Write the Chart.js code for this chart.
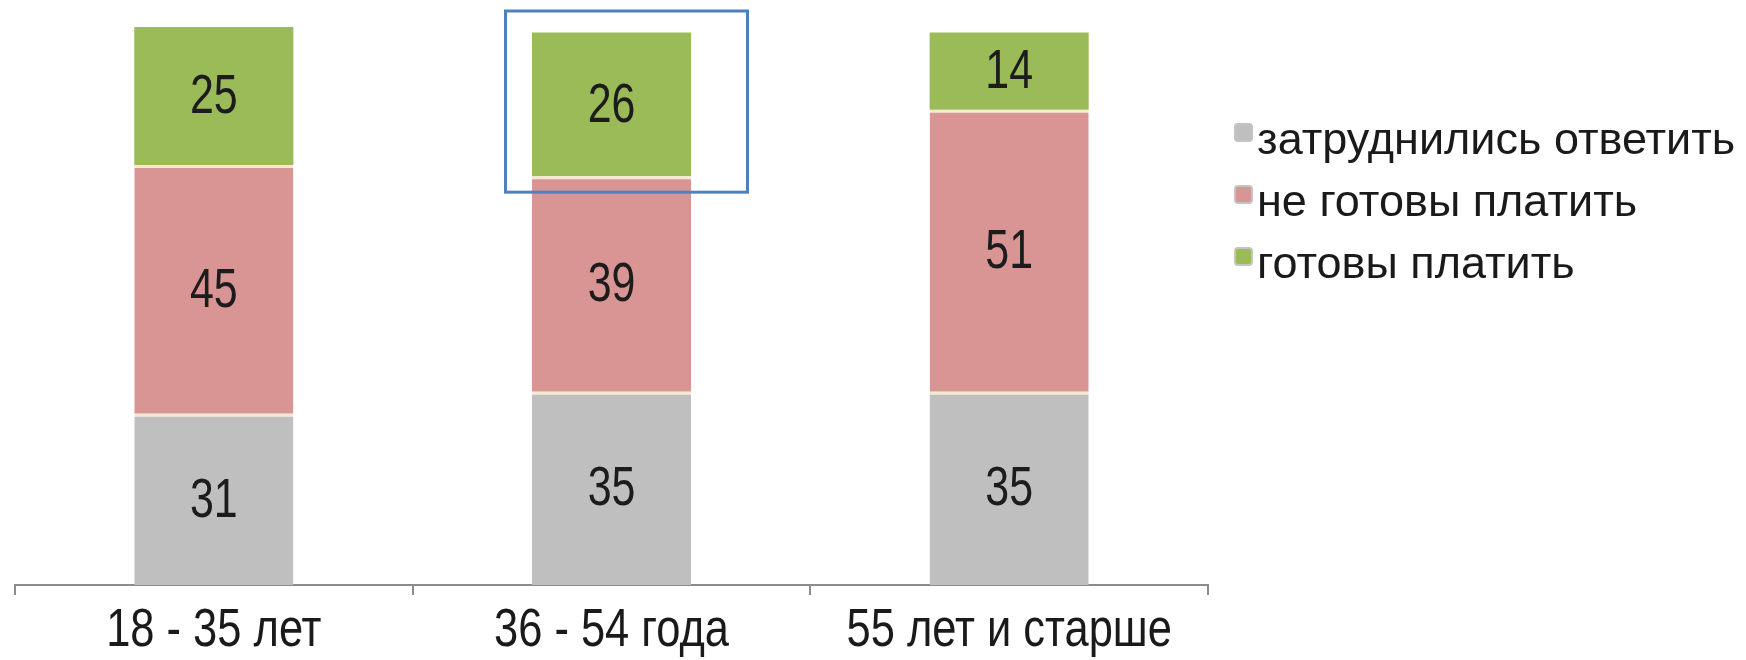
<!DOCTYPE html>
<html lang="ru">
<head>
<meta charset="utf-8">
<title>Готовность платить по возрастам</title>
<script src="https://cdn.jsdelivr.net/npm/chart.js@4.4.1/dist/chart.umd.min.js"></script>
<style>
    html, body { margin: 0; padding: 0; background: #fff; }
    #wrap { position: relative; width: 1746px; height: 660px; }
</style>
</head>
<body>
<div id="wrap"><canvas id="myChart"></canvas></div>
<script>
const categories = ["18 - 35 лет", "36 - 54 года", "55 лет и старше"];
const seriesNames = ["затруднились ответить", "не готовы платить", "готовы платить"];
const hardToSay = [31, 35, 35];
const notReady = [45, 39, 51];
const ready = [25, 26, 14];
const seriesColors = ["#bfbfbf", "#d99594", "#9bbb59"];

const baseFont = "'Liberation Sans', Arial, sans-serif";

const seriesData = [hardToSay, notReady, ready];
const totals = categories.map((c, i) => seriesData.reduce((s, arr) => s + arr[i], 0));
const yMax = Math.max(...totals);

// Arial squeezed sideways, to get the narrow look of the labels
function narrowText(ctx, text, x, y, squeeze) {
    ctx.save();
    ctx.translate(x, y);
    ctx.scale(squeeze, 1);
    ctx.fillText(text, 0, 0);
    ctx.restore();
}

// numbers in the middle of each segment
const valueLabels = {
    id: 'valueLabels',
    afterDatasetsDraw(chart) {
        const ctx = chart.ctx;
        ctx.save();
        ctx.font = "55px " + baseFont;
        ctx.textAlign = "center";
        ctx.textBaseline = "middle";
        ctx.fillStyle = "#1c1c1c";
        chart.data.datasets.forEach((ds, i) => {
            chart.getDatasetMeta(i).data.forEach((bar, j) => {
                const p = bar.getProps(["x", "y", "base"], true);
                narrowText(ctx, ds.data[j], p.x, (p.y + p.base) / 2 + 2, 0.78);
            });
        });
        ctx.restore();
    }
};

// category names, legend on the right, blue frame around the middle group's top segment
const extras = {
    id: 'extras',
    afterDraw(chart) {
        const ctx = chart.ctx;
        const xs = chart.scales.x;
        const ys = chart.scales.y;
        ctx.save();

        ctx.font = "53px " + baseFont;
        ctx.textAlign = "center";
        ctx.textBaseline = "middle";
        ctx.fillStyle = "#1a1a1a";
        categories.forEach((name, i) => {
            narrowText(ctx, name, xs.getPixelForValue(i), chart.chartArea.bottom + 46, 0.82);
        });

        ctx.font = "45px " + baseFont;
        ctx.textAlign = "left";
        chart.data.datasets.forEach((ds, i) => {
            const y = 133 + i * 62;
            ctx.fillStyle = ds.backgroundColor;
            ctx.strokeStyle = "#c4c4c4";
            ctx.lineWidth = 2;
            ctx.beginPath();
            ctx.roundRect(1235, y - 9, 17, 17, 3);
            ctx.fill();
            ctx.stroke();
            ctx.fillStyle = "#1a1a1a";
            ctx.fillText(ds.label, 1257, y + 9);
        });

        const cx = xs.getPixelForValue(1);
        const yBottom = ys.getPixelForValue(hardToSay[1] + notReady[1]) + 16;
        ctx.strokeStyle = "#4f81bd";
        ctx.lineWidth = 3;
        ctx.strokeRect(cx - 106, 11, 242, yBottom - 11);
        ctx.restore();
    }
};

const datasets = seriesNames.map((name, i) => ({
    label: name,
    data: seriesData[i],
    backgroundColor: seriesColors[i],
    borderColor: i < 2 ? "#f4ead2" : seriesColors[i],
    borderWidth: i < 2 ? { top: 3, left: 0, right: 0, bottom: 0 } : 0,
    borderSkipped: false,
    barPercentage: 0.4,
    categoryPercentage: 1.0
}));

let myChart = new Chart(document.getElementById("myChart"), {
    type: "bar",
    data: { labels: categories, datasets: datasets },
    options: {
        responsive: true,
        maintainAspectRatio: false,
        animation: false,
        layout: { padding: { left: 15, right: 538, top: 27, bottom: 65 } },
        plugins: {
            legend: { display: false },
            tooltip: { enabled: false }
        },
        scales: {
            x: {
                stacked: true,
                grid: {
                    offset: true,
                    drawOnChartArea: false,
                    drawTicks: true,
                    tickLength: 10,
                    color: "#8c8c8c",
                    lineWidth: 2
                },
                border: { display: true, color: "#8c8c8c", width: 2 },
                ticks: { display: false }
            },
            y: {
                stacked: true,
                display: false,
                min: 0,
                max: yMax
            }
        }
    },
    plugins: [valueLabels, extras]
});
</script>
</body>
</html>
